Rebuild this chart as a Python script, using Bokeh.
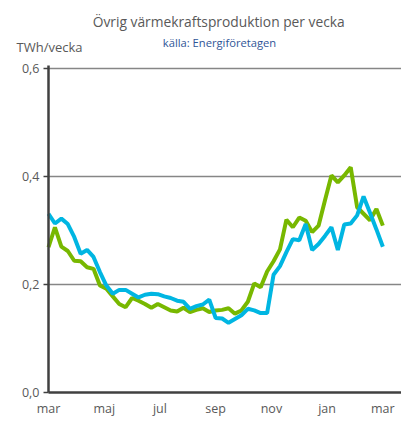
from bokeh.plotting import figure
from bokeh.models import (ColumnDataSource, FixedTicker, CustomJSTickFormatter, Label,
                          Range1d, LinearAxis)
from bokeh.embed import file_html
from bokeh.resources import INLINE

title_text = "Övrig värmekraftsproduktion  per vecka"
subtitle_text = "källa: Energiföretagen"
unit_text = "TWh/vecka"

month_labels = ["mar", "maj", "jul", "sep", "nov", "jan", "mar"]
month_ticks = [0, 8.67, 17.33, 26, 34.67, 43.33, 52]
y_ticks = [0.0, 0.2, 0.4, 0.6]

week = list(range(53))
green = [0.269, 0.306, 0.270, 0.262, 0.244, 0.243, 0.232, 0.229, 0.198, 0.192,
         0.178, 0.164, 0.158, 0.175, 0.170, 0.164, 0.157, 0.164, 0.158, 0.152,
         0.150, 0.157, 0.149, 0.153, 0.156, 0.149, 0.152, 0.153, 0.156, 0.146,
         0.152, 0.168, 0.202, 0.195, 0.224, 0.243, 0.265, 0.320, 0.306, 0.324,
         0.318, 0.297, 0.309, 0.356, 0.402, 0.389, 0.402, 0.417, 0.343, 0.331,
         0.319, 0.340, 0.309]
cyan = [0.331, 0.313, 0.322, 0.312, 0.288, 0.257, 0.264, 0.251, 0.223, 0.198,
        0.183, 0.190, 0.190, 0.183, 0.176, 0.181, 0.183, 0.182, 0.178, 0.175,
        0.170, 0.168, 0.155, 0.160, 0.163, 0.172, 0.138, 0.137, 0.129, 0.136,
        0.143, 0.155, 0.152, 0.147, 0.147, 0.218, 0.234, 0.260, 0.284, 0.282,
        0.312, 0.264, 0.275, 0.290, 0.306, 0.264, 0.311, 0.313, 0.328, 0.363,
        0.333, 0.302, 0.270]

W, H = 401, 421
px_week = 6.43          # pixels per week
px_unit = 540.0         # pixels per TWh/vecka
left_px, base_px = 48, 392
x_end = (W - left_px) / px_week
x_start = -left_px / px_week
y_start = -(H - base_px) / px_unit
y_end = base_px / px_unit

src = ColumnDataSource(dict(week=week, green=green, cyan=cyan))
grid_src = ColumnDataSource(dict(y=y_ticks[1:], x0=[0] * 3, x1=[x_end] * 3))

p = figure(width=W, height=H, output_backend="svg", toolbar_location=None,
           x_range=Range1d(x_start, x_end), y_range=Range1d(y_start, y_end),
           min_border=0, x_axis_type=None, y_axis_type=None)
p.outline_line_color = None
p.background_fill_color = "white"
p.border_fill_color = "white"
p.xgrid.visible = False
p.ygrid.visible = False

font = "Open Sans"
txt = "#595959"

p.segment(x0="x0", x1="x1", y0="y", y1="y", source=grid_src,
          line_color="#868686", line_width=1.5)

p.line("week", "green", source=src, line_color="#78b800", line_width=4)
p.line("week", "cyan", source=src, line_color="#00b6e2", line_width=4)

yaxis = LinearAxis(fixed_location=0, bounds=(0, 0.606))
yaxis.ticker = FixedTicker(ticks=y_ticks)
yaxis.formatter = CustomJSTickFormatter(code="return tick.toFixed(1).replace('.', ',');")
yaxis.axis_line_color = "#404040"
yaxis.axis_line_width = 2.5
yaxis.major_tick_line_color = "#404040"
yaxis.major_tick_line_width = 1.5
yaxis.major_tick_in = 0
yaxis.major_tick_out = 5
yaxis.minor_tick_line_color = None
yaxis.major_label_text_font = font
yaxis.major_label_text_font_size = "12.5px"
yaxis.major_label_text_color = txt
yaxis.major_label_standoff = 4
p.add_layout(yaxis, "left")

xaxis = LinearAxis(fixed_location=0, bounds=(0, x_end))
xaxis.ticker = FixedTicker(ticks=month_ticks)
xaxis.formatter = CustomJSTickFormatter(args=dict(labels=month_labels),
                                        code="return labels[index];")
xaxis.axis_line_color = "#404040"
xaxis.axis_line_width = 2.5
xaxis.major_tick_line_color = None
xaxis.major_tick_in = 0
xaxis.major_tick_out = 0
xaxis.minor_tick_line_color = None
xaxis.minor_tick_out = 0
xaxis.major_label_text_font = font
xaxis.major_label_text_font_size = "12.5px"
xaxis.major_label_text_color = txt
xaxis.major_label_standoff = 7
p.add_layout(xaxis, "below")

p.add_layout(Label(x=(220 - left_px) / px_week, y=(base_px - 20.5) / px_unit, text=title_text,
                   text_font=font, text_font_size="13.8px", text_color=txt,
                   text_align="center", text_baseline="middle"))
p.add_layout(Label(x=(219 - left_px) / px_week, y=(base_px - 41.5) / px_unit, text=subtitle_text,
                   text_font=font, text_font_size="11.2px", text_color="#2f5597",
                   text_align="center", text_baseline="middle"))
p.add_layout(Label(x=(16 - left_px) / px_week, y=(base_px - 46) / px_unit, text=unit_text,
                   text_font=font, text_font_size="13px", text_color=txt,
                   text_align="left", text_baseline="middle"))

open("out.html", "w").write(file_html(p, INLINE))
